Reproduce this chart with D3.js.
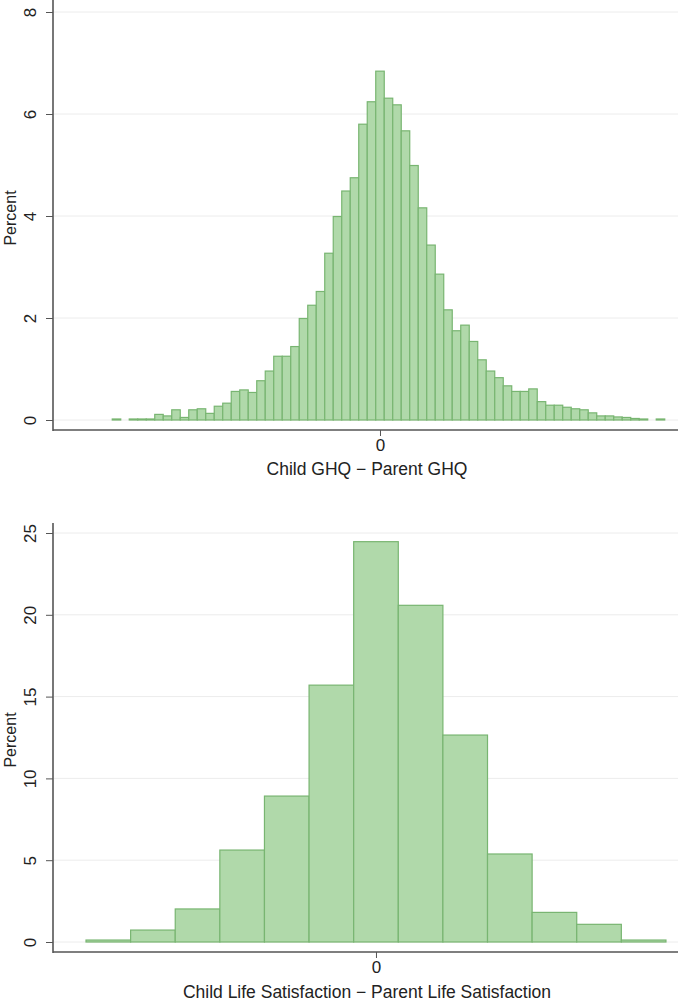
<!DOCTYPE html>
<html>
<head>
<meta charset="utf-8">
<script src="https://cdn.jsdelivr.net/npm/d3@7"></script>
<style>
  body { margin: 0; background: #fff; }
  text { font-family: "Liberation Sans", Arial, sans-serif; fill: #222; }
</style>
</head>
<body>
<script>
// Child GHQ - Parent GHQ (bin centre, percent)
var ghqDiff = [-31,-30,-29,-28,-27,-26,-25,-24,-23,-22,-21,-20,-19,-18,-17,-16,-15,-14,-13,-12,-11,-10,
               -9,-8,-7,-6,-5,-4,-3,-2,-1,0,1,2,3,4,5,6,7,8,9,10,11,12,13,14,15,16,17,18,19,20,
               21,22,23,24,25,26,27,28,29,30,31,32,33];
var ghqPct = [0.02,0,0.02,0.02,0.02,0.11,0.08,0.2,0.05,0.2,0.22,0.13,0.27,0.33,0.56,0.59,0.54,0.77,0.96,1.25,1.25,1.44,
              1.99,2.25,2.52,3.27,3.99,4.49,4.75,5.8,6.24,6.84,6.31,6.18,5.67,4.99,4.16,3.43,2.86,2.16,1.75,1.86,1.54,1.18,0.96,0.83,0.67,0.56,0.56,0.61,0.36,0.29,
              0.29,0.25,0.22,0.2,0.14,0.08,0.08,0.06,0.05,0.03,0.02,0,0.02];
var ghqTicksY = [0, 2, 4, 6, 8];

// Child Life Satisfaction - Parent Life Satisfaction
var lsDiff = [-6,-5,-4,-3,-2,-1,0,1,2,3,4,5,6];
var lsPct = [0.12,0.73,2.02,5.62,8.92,15.7,24.47,20.58,12.65,5.38,1.81,1.08,0.12];
var lsTicksY = [0, 5, 10, 15, 20, 25];

var xTicks = [0];

var W = 678, H = 1002;
var svg = d3.select("body").append("svg")
    .attr("width", W)
    .attr("height", H);

var fillCol = "#b0d9aa", lineCol = "#78b571";

function drawHist(cfg) {
  var g = svg.append("g");
  var x = d3.scaleLinear().domain(cfg.xDomain).range([cfg.left, W]);
  var y = d3.scaleLinear().domain([0, cfg.yMax]).range([cfg.y0, cfg.yTop]);

  // grid lines
  g.selectAll("line.grid")
    .data(cfg.yTicks)
    .enter().append("line")
    .attr("class", "grid")
    .attr("x1", cfg.left + 1).attr("x2", W)
    .attr("y1", function(d) { return y(d); })
    .attr("y2", function(d) { return y(d); })
    .attr("stroke", "#ececec")
    .attr("stroke-width", 1);

  // bars
  g.selectAll("rect.bar")
    .data(cfg.bins.map(function(b, i) { return {b: b, v: cfg.vals[i]}; }).filter(function(d) { return d.v > 0; }))
    .enter().append("rect")
    .attr("class", "bar")
    .attr("x", function(d) { return x(d.b - 0.5); })
    .attr("width", function(d) { return x(d.b + 0.5) - x(d.b - 0.5); })
    .attr("y", function(d) { return y(d.v); })
    .attr("height", function(d) { return y(0) - y(d.v); })
    .attr("fill", fillCol)
    .attr("stroke", lineCol)
    .attr("stroke-width", 1.2);

  // y axis
  var ya = g.append("g")
    .attr("transform", "translate(" + cfg.left + ",0)")
    .call(d3.axisLeft(y).tickValues(cfg.yTicks).tickSize(7).tickFormat(d3.format("d")));
  ya.select(".domain").remove();
  ya.selectAll(".tick line").attr("stroke", "#555");
  ya.selectAll(".tick text")
    .attr("transform", "rotate(-90)")
    .attr("x", 0).attr("y", -17).attr("dy", 0)
    .attr("text-anchor", "middle")
    .style("font-size", "17px");
  g.append("line")
    .attr("x1", cfg.left).attr("x2", cfg.left)
    .attr("y1", cfg.axisTop).attr("y2", cfg.xAxisY + 1)
    .attr("stroke", "#555").attr("stroke-width", 1.6);

  // x axis
  var xa = g.append("g")
    .attr("transform", "translate(0," + cfg.xAxisY + ")")
    .call(d3.axisBottom(x).tickValues(xTicks).tickSize(6).tickPadding(3).tickFormat(d3.format("d")));
  xa.select(".domain").remove();
  xa.selectAll(".tick line").attr("stroke", "#555");
  xa.selectAll(".tick text").style("font-size", "17px");
  g.append("line")
    .attr("x1", cfg.left).attr("x2", W)
    .attr("y1", cfg.xAxisY).attr("y2", cfg.xAxisY)
    .attr("stroke", "#555").attr("stroke-width", 1.6);

  // titles
  g.append("text")
    .attr("x", 367).attr("y", cfg.titleY)
    .attr("text-anchor", "middle")
    .style("font-size", "17.5px")
    .text(cfg.xTitle);
  g.append("text")
    .attr("transform", "translate(16," + cfg.yTitleY + ") rotate(-90)")
    .attr("text-anchor", "middle")
    .style("font-size", "16px")
    .text("Percent");
}

drawHist({
  bins: ghqDiff, vals: ghqPct, yTicks: ghqTicksY, yMax: 8,
  xDomain: [-38.47, 35.06], left: 53,
  y0: 420, yTop: 12, axisTop: 0, xAxisY: 430,
  titleY: 475, yTitleY: 218,
  xTitle: "Child GHQ \u2212 Parent GHQ"
});

drawHist({
  bins: lsDiff, vals: lsPct, yTicks: lsTicksY, yMax: 25,
  xDomain: [-7.24, 6.77], left: 53,
  y0: 942, yTop: 533, axisTop: 523, xAxisY: 952,
  titleY: 998, yTitleY: 740,
  xTitle: "Child Life Satisfaction \u2212 Parent Life Satisfaction"
});
</script>
</body>
</html>
